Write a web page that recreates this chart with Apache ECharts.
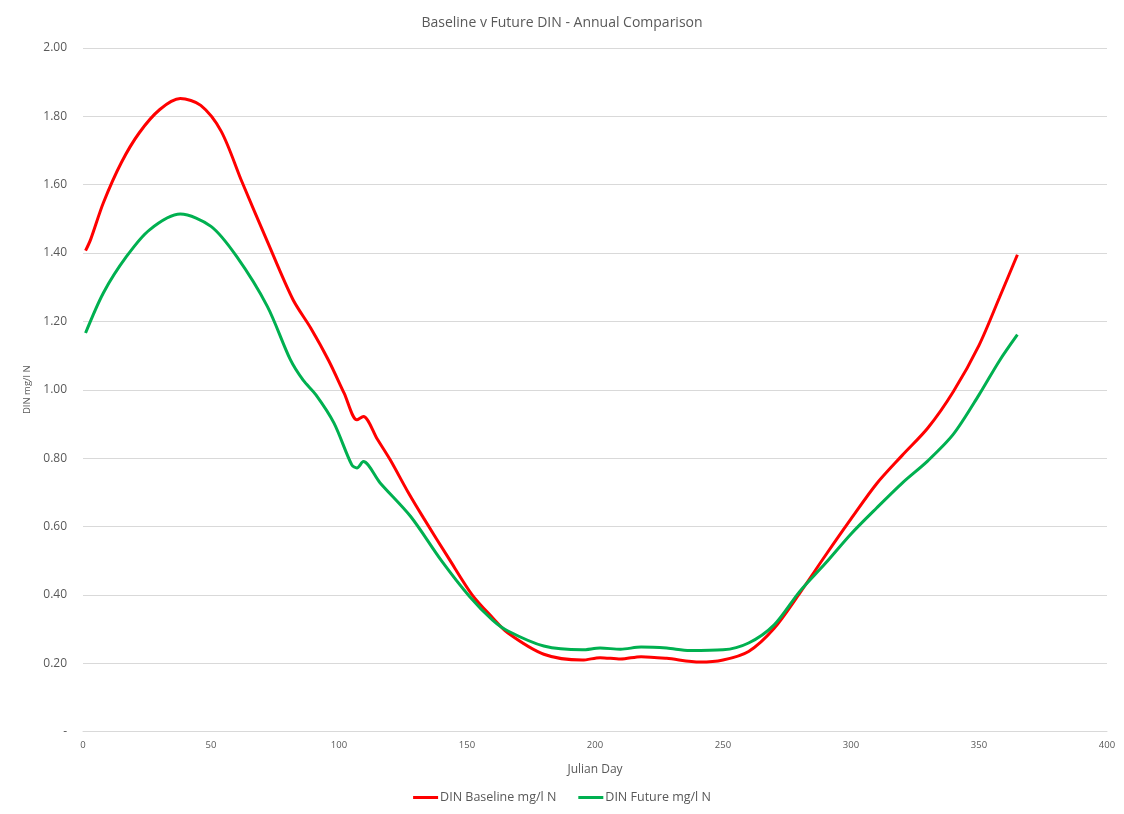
<!DOCTYPE html>
<html>
<head>
<meta charset="utf-8">
<title>Baseline v Future DIN - Annual Comparison</title>
<script src="https://cdn.jsdelivr.net/npm/echarts@6/dist/echarts.min.js"></script>
<style>
  html, body { margin: 0; padding: 0; background: #fff; }
  #chart { width: 1124px; height: 814px; }
</style>
</head>
<body>
<div id="chart"></div>
<script>
// DIN concentration (mg/l N) by Julian day
const baselineDays = [1, 3, 8, 15, 22, 30, 38, 46, 54, 62, 72, 82, 89, 96, 102, 107, 109.5, 115, 120, 127, 133, 143, 152, 160, 166, 180, 195, 202, 210, 218, 228, 241, 250, 260, 270, 280, 290, 300, 310, 320, 330, 340, 350, 358, 365];
const baselineValues = [1.407, 1.440, 1.548, 1.665, 1.752, 1.820, 1.852, 1.832, 1.756, 1.610, 1.434, 1.264, 1.180, 1.085, 0.990, 0.912, 0.922, 0.855, 0.795, 0.700, 0.625, 0.505, 0.400, 0.333, 0.288, 0.226, 0.209, 0.216, 0.212, 0.219, 0.214, 0.203, 0.209, 0.234, 0.302, 0.405, 0.515, 0.622, 0.725, 0.808, 0.888, 0.995, 1.130, 1.270, 1.395];

const futureDays = [1, 8, 17, 26, 38, 50, 60, 72, 81, 86, 91, 98, 105, 107, 109.5, 116, 128, 140, 151, 160, 166, 180, 195, 202, 210, 218, 228, 237, 250, 260, 270, 280, 290, 300, 310, 320, 330, 340, 350, 358, 365];
const futureValues = [1.166, 1.284, 1.390, 1.468, 1.514, 1.478, 1.390, 1.244, 1.088, 1.028, 0.985, 0.903, 0.780, 0.771, 0.790, 0.728, 0.629, 0.500, 0.395, 0.326, 0.294, 0.250, 0.239, 0.244, 0.241, 0.247, 0.244, 0.237, 0.239, 0.259, 0.312, 0.410, 0.492, 0.578, 0.654, 0.727, 0.792, 0.870, 0.985, 1.085, 1.161];

const seriesNames = ['DIN Baseline mg/l N', 'DIN Future mg/l N'];
const xTicks = { min: 0, max: 400, interval: 50 };
const yTicks = { min: 0, max: 2, interval: 0.2 };

const pairs = (xs, ys) => xs.map((x, i) => [x, ys[i]]);

const FONT = '"Open Sans", "Noto Sans", sans-serif';
const TEXT = '#595959';

const chart = echarts.init(document.getElementById('chart'), null, { renderer: 'canvas' });
chart.setOption({
  animation: false,
  backgroundColor: '#ffffff',
  title: {
    text: 'Baseline v Future DIN - Annual Comparison',
    left: 'center',
    top: 11,
    textStyle: { fontFamily: FONT, fontSize: 14, fontWeight: 'normal', color: TEXT }
  },
  legend: {
    bottom: 5,
    left: 'center',
    itemWidth: 25,
    itemHeight: 3,
    itemGap: 22,
    icon: 'rect',
    textStyle: { fontFamily: FONT, fontSize: 12.5, color: TEXT, padding: [0, 0, 0, -3] },
    data: seriesNames
  },
  grid: { left: 83, right: 17, top: 48, bottom: 82.5, containLabel: false },
  xAxis: {
    type: 'value',
    min: xTicks.min,
    max: xTicks.max,
    interval: xTicks.interval,
    name: 'Julian Day',
    nameLocation: 'middle',
    nameGap: 32,
    nameTextStyle: { fontFamily: FONT, fontSize: 12, color: TEXT },
    axisLine: { show: true, lineStyle: { color: '#d9d9d9', width: 1 } },
    axisTick: { show: false },
    splitLine: { show: false },
    axisLabel: { fontFamily: FONT, fontSize: 9.5, color: TEXT, margin: 9 }
  },
  yAxis: {
    type: 'value',
    min: yTicks.min,
    max: yTicks.max,
    interval: yTicks.interval,
    name: 'DIN mg/l N',
    nameLocation: 'middle',
    nameGap: 50,
    nameRotate: 90,
    nameTextStyle: { fontFamily: FONT, fontSize: 9.5, color: TEXT },
    axisLine: { show: false },
    axisTick: { show: false },
    splitLine: { show: true, lineStyle: { color: '#d9d9d9', width: 1 } },
    axisLabel: {
      fontFamily: FONT,
      fontSize: 12,
      color: TEXT,
      margin: 16,
      formatter: v => (v === 0 ? '-' : v.toFixed(2))
    }
  },
  series: [
    {
      name: seriesNames[0],
      type: 'line',
      data: pairs(baselineDays, baselineValues),
      smooth: 0.3,
      showSymbol: false,
      symbol: 'none',
      lineStyle: { color: '#ff0000', width: 3 },
      itemStyle: { color: '#ff0000' }
    },
    {
      name: seriesNames[1],
      type: 'line',
      data: pairs(futureDays, futureValues),
      smooth: 0.3,
      showSymbol: false,
      symbol: 'none',
      lineStyle: { color: '#00b050', width: 3 },
      itemStyle: { color: '#00b050' }
    }
  ]
});
</script>
</body>
</html>
